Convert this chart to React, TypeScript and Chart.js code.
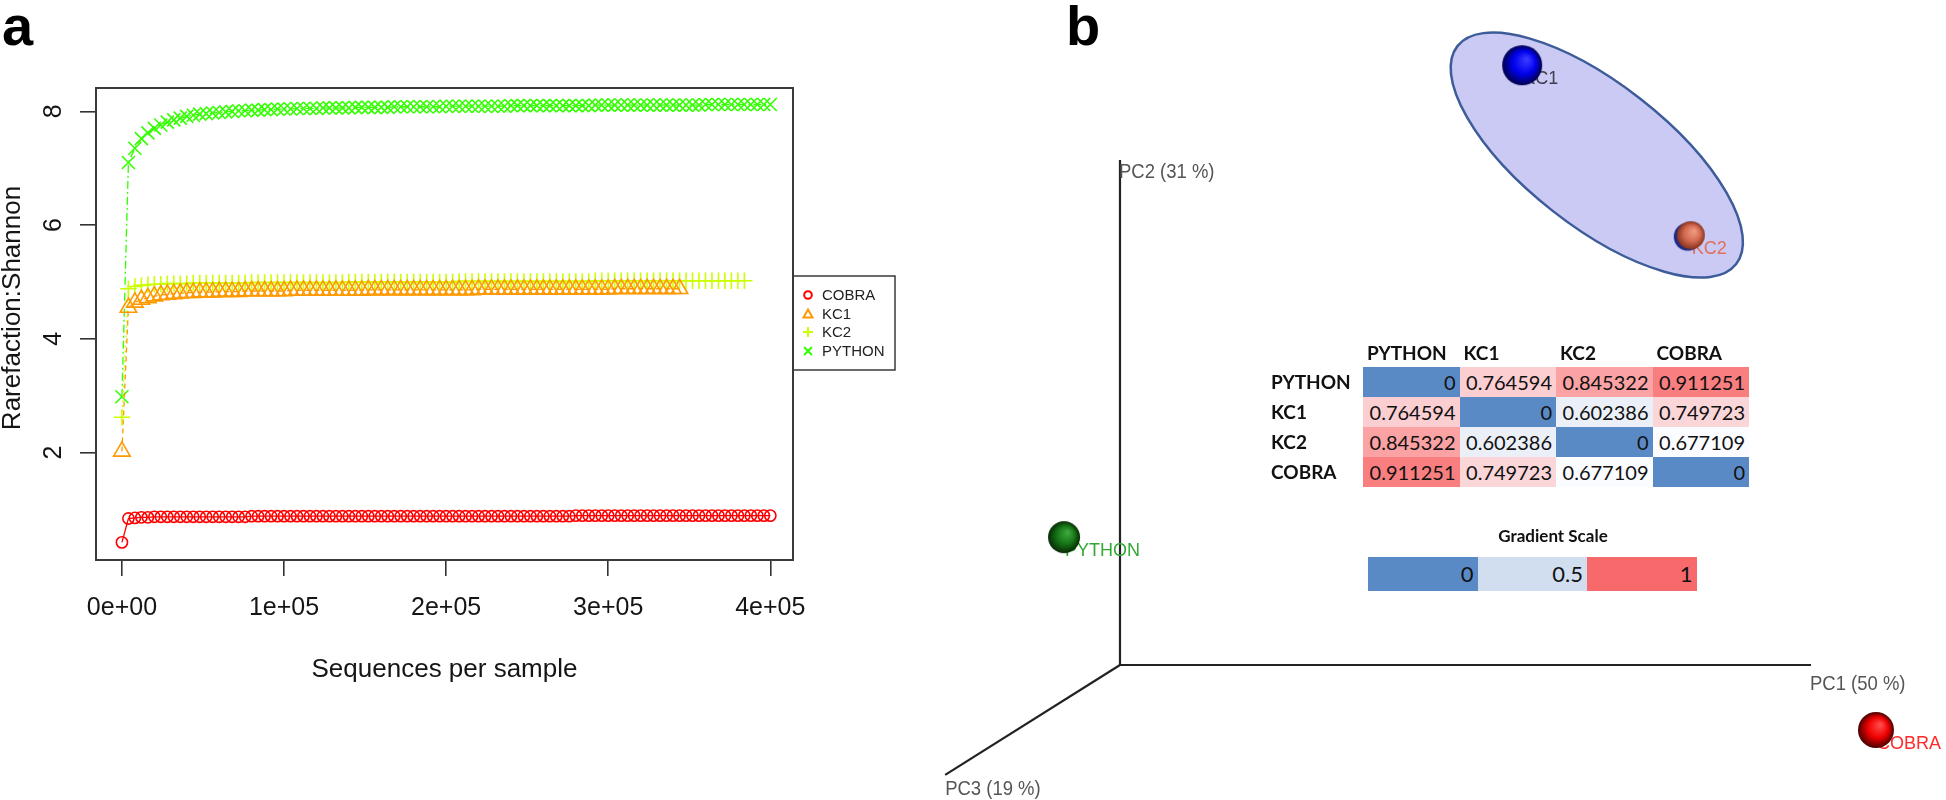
import React, { useEffect, useRef } from "react";
import { Chart, registerables } from "chart.js";
Chart.register(...registerables);

// ---------------- Panel a data ----------------
const depths = [1, 4000, 8000, 12000, 16000, 20000, 24000, 28000, 32000, 36000, 40000, 44000, 48000, 52000, 56000, 60000, 64000, 68000, 72000, 76000, 80000, 84000, 88000, 92000, 96000, 100000, 104000, 108000, 112000, 116000, 120000, 124000, 128000, 132000, 136000, 140000, 144000, 148000, 152000, 156000, 160000, 164000, 168000, 172000, 176000, 180000, 184000, 188000, 192000, 196000, 200000, 204000, 208000, 212000, 216000, 220000, 224000, 228000, 232000, 236000, 240000, 244000, 248000, 252000, 256000, 260000, 264000, 268000, 272000, 276000, 280000, 284000, 288000, 292000, 296000, 300000, 304000, 308000, 312000, 316000, 320000, 324000, 328000, 332000, 336000, 340000, 344000, 348000, 352000, 356000, 360000, 364000, 368000, 372000, 376000, 380000, 384000, 388000, 392000, 396000, 400000];

const cobraShannon = [
  0.42, 0.84, 0.85, 0.86, 0.86, 0.87, 0.87, 0.87, 0.87, 0.87,
  0.87, 0.87, 0.87, 0.87, 0.87, 0.87, 0.87, 0.87, 0.87, 0.87,
  0.88, 0.88, 0.88, 0.88, 0.88, 0.88, 0.88, 0.88, 0.88, 0.88,
  0.88, 0.88, 0.88, 0.88, 0.88, 0.88, 0.88, 0.88, 0.88, 0.88,
  0.88, 0.88, 0.88, 0.88, 0.88, 0.88, 0.88, 0.88, 0.88, 0.88,
  0.88, 0.88, 0.88, 0.88, 0.88, 0.88, 0.88, 0.88, 0.88, 0.88,
  0.88, 0.88, 0.88, 0.88, 0.88, 0.88, 0.88, 0.88, 0.88, 0.88,
  0.89, 0.89, 0.89, 0.89, 0.89, 0.89, 0.89, 0.89, 0.89, 0.89,
  0.89, 0.89, 0.89, 0.89, 0.89, 0.89, 0.89, 0.89, 0.89, 0.89,
  0.89, 0.89, 0.89, 0.89, 0.89, 0.89, 0.89, 0.89, 0.89, 0.89, 0.89,
];

const kc1Shannon = [
  2.02, 4.55, 4.64, 4.69, 4.72, 4.75, 4.77, 4.78, 4.79, 4.80,
  4.81, 4.81, 4.82, 4.82, 4.82, 4.83, 4.83, 4.83, 4.83, 4.84,
  4.84, 4.84, 4.84, 4.84, 4.84, 4.84, 4.85, 4.85, 4.85, 4.85,
  4.85, 4.85, 4.85, 4.85, 4.85, 4.85, 4.85, 4.85, 4.86, 4.86,
  4.86, 4.86, 4.86, 4.86, 4.86, 4.86, 4.86, 4.86, 4.86, 4.86,
  4.86, 4.86, 4.86, 4.86, 4.86, 4.87, 4.87, 4.87, 4.87, 4.87,
  4.87, 4.87, 4.87, 4.87, 4.87, 4.87, 4.87, 4.87, 4.87, 4.87,
  4.87, 4.87, 4.87, 4.87, 4.87, 4.87, 4.88, 4.88, 4.88, 4.88,
  4.88, 4.88, 4.88, 4.88, 4.88, 4.88, 4.88,
];

const kc2Shannon = [
  2.62, 4.88, 4.92, 4.94, 4.95, 4.96, 4.96, 4.97, 4.97, 4.97,
  4.97, 4.98, 4.98, 4.98, 4.98, 4.98, 4.98, 4.98, 4.98, 4.98,
  4.99, 4.99, 4.99, 4.99, 4.99, 4.99, 4.99, 4.99, 4.99, 4.99,
  4.99, 4.99, 4.99, 4.99, 4.99, 5.00, 5.00, 5.00, 5.00, 5.00,
  5.00, 5.00, 5.00, 5.00, 5.00, 5.00, 5.00, 5.00, 5.00, 5.00,
  5.00, 5.00, 5.01, 5.01, 5.01, 5.01, 5.01, 5.01, 5.01, 5.01,
  5.01, 5.01, 5.01, 5.01, 5.01, 5.01, 5.01, 5.01, 5.01, 5.01,
  5.01, 5.01, 5.01, 5.02, 5.02, 5.02, 5.02, 5.02, 5.02, 5.02,
  5.02, 5.02, 5.02, 5.02, 5.02, 5.02, 5.02, 5.02, 5.02, 5.02,
  5.02, 5.02, 5.02, 5.02, 5.02, 5.02, 5.02,
];

const pythonShannon = [
  2.98, 7.10, 7.35, 7.52, 7.62, 7.70, 7.76, 7.81, 7.85, 7.88,
  7.91, 7.93, 7.95, 7.96, 7.97, 7.98, 7.99, 8.00, 8.01, 8.01,
  8.02, 8.02, 8.03, 8.03, 8.04, 8.04, 8.04, 8.05, 8.05, 8.05,
  8.05, 8.06, 8.06, 8.06, 8.06, 8.06, 8.07, 8.07, 8.07, 8.07,
  8.07, 8.07, 8.08, 8.08, 8.08, 8.08, 8.08, 8.08, 8.08, 8.08,
  8.09, 8.09, 8.09, 8.09, 8.09, 8.09, 8.09, 8.09, 8.09, 8.09,
  8.10, 8.10, 8.10, 8.10, 8.10, 8.10, 8.10, 8.10, 8.10, 8.10,
  8.10, 8.10, 8.10, 8.11, 8.11, 8.11, 8.11, 8.11, 8.11, 8.11,
  8.11, 8.11, 8.11, 8.11, 8.11, 8.11, 8.11, 8.11, 8.11, 8.11,
  8.12, 8.12, 8.12, 8.12, 8.12, 8.12, 8.12, 8.12, 8.12, 8.12, 8.12,
];

const seriesNames = ["COBRA", "KC1", "KC2", "PYTHON"];
const xTickValues = [0, 100000, 200000, 300000, 400000];
const xTickLabels = ["0e+00", "1e+05", "2e+05", "3e+05", "4e+05"];
const yTickValues = [2, 4, 6, 8];
const yTickLabels = ["2", "4", "6", "8"];

// ---------------- Panel b data ----------------
const sampleNames = ["PYTHON", "KC1", "KC2", "COBRA"];
const projX = [-8.1, 58.2, 82.6, 109.4];
const projY = [18.5, 86.8, 62.2, -9.4];
const axisNames = ["PC1 (50 %)", "PC2 (31 %)", "PC3 (19 %)"];
const axisEndX = [100, 0, -25.3];
const axisEndY = [0, 73.1, -15.9];
const ellipseCenter = [69.0, 73.8];
const ellipseSemiAxes = [25.6, 10.3];
const ellipseAngleDeg = -38;

const distPYTHON = [0, 0.764594, 0.845322, 0.911251];
const distKC1 = [0.764594, 0, 0.602386, 0.749723];
const distKC2 = [0.845322, 0.602386, 0, 0.677109];
const distCOBRA = [0.911251, 0.749723, 0.677109, 0];
const gradientValues = [0, 0.5, 1];
const gradientLabels = ["0", "0.5", "1"];

// ---------------- styles ----------------
const seriesColors = ["#FF0000", "#FF9900", "#CCFF00", "#33FF00"];
const seriesPointStyle = ["circle", "triangle", "cross", "crossRot"];
const seriesPointRadius = [5.6, 9.5, 8.2, 9.2];
const seriesDash = [[], [5, 4], [2, 3], [8, 3, 2, 3]];
const FONT_A = '"Liberation Sans", Arial, sans-serif';

const sphereRadius = [16, 20, 14, 18];
const sphereColors = [
  ["#3da83d", "#157515", "#062806"],
  ["#3a3aff", "#0000ee", "#00004a"],
  ["#ee9a80", "#d46a50", "#85331e"],
  ["#ff4a4a", "#ee0000", "#4a0000"],
];
const labelColors = ["#33a833", "#3e3e50", "#e0705a", "#ff2a2a"];

function makeSphere(r: number, cols: string[], back?: string) {
  const c = document.createElement("canvas");
  const s = Math.ceil(2 * r + 8);
  c.width = s;
  c.height = s;
  const g = c.getContext("2d")!;
  const cx = s / 2, cy = s / 2;
  if (back) {
    g.beginPath();
    g.arc(cx - 3, cy + 1.5, r, 0, Math.PI * 2);
    g.fillStyle = back;
    g.fill();
  }
  const grad = g.createRadialGradient(cx + r * 0.25, cy - r * 0.3, r * 0.05, cx, cy, r);
  grad.addColorStop(0, cols[0]);
  grad.addColorStop(0.55, cols[1]);
  grad.addColorStop(1, cols[2]);
  g.beginPath();
  g.arc(cx, cy, r, 0, Math.PI * 2);
  g.fillStyle = grad;
  g.fill();
  return c;
}

function valueColor(v: number): string {
  const lo = [90, 138, 198], mid = [252, 252, 255], hi = [248, 105, 107];
  const m = 0.68, top = 0.95;
  let c: number[];
  if (v <= m) {
    const t = Math.max(0, Math.min(1, (m - v) / m));
    c = mid.map((x, i) => x + (lo[i] - x) * t);
  } else {
    const t = Math.min(1, (v - m) / (top - m));
    c = mid.map((x, i) => x + (hi[i] - x) * t);
  }
  return `rgb(${c.map((x) => Math.round(x)).join(",")})`;
}

function drawLegendSymbol(ctx: CanvasRenderingContext2D, k: number, x: number, y: number) {
  ctx.save();
  ctx.strokeStyle = seriesColors[k];
  ctx.lineWidth = 2;
  ctx.beginPath();
  if (k === 0) {
    ctx.arc(x, y, 3.8, 0, Math.PI * 2);
  } else if (k === 1) {
    ctx.moveTo(x, y - 4.5);
    ctx.lineTo(x + 4.5, y + 3.5);
    ctx.lineTo(x - 4.5, y + 3.5);
    ctx.closePath();
  } else if (k === 2) {
    ctx.moveTo(x - 5, y); ctx.lineTo(x + 5, y);
    ctx.moveTo(x, y - 5); ctx.lineTo(x, y + 5);
  } else {
    ctx.moveTo(x - 4, y - 4); ctx.lineTo(x + 4, y + 4);
    ctx.moveTo(x + 4, y - 4); ctx.lineTo(x - 4, y + 4);
  }
  ctx.stroke();
  ctx.restore();
}

const panelAPlugin = {
  id: "panelA",
  afterDraw(chart: any) {
    const ctx: CanvasRenderingContext2D = chart.ctx;
    const { left, right, top, bottom } = chart.chartArea;
    const xs = chart.scales.x, ys = chart.scales.y;
    ctx.save();
    ctx.strokeStyle = "#3a3a3a";
    ctx.lineWidth = 2;
    ctx.strokeRect(left, top, right - left, bottom - top);

    ctx.fillStyle = "#151515";
    ctx.font = `25px ${FONT_A}`;
    ctx.textAlign = "center";
    ctx.textBaseline = "middle";
    xTickValues.forEach((v, i) => ctx.fillText(xTickLabels[i], xs.getPixelForValue(v), bottom + 48));
    yTickValues.forEach((v, i) => {
      ctx.save();
      ctx.translate(left - 42, ys.getPixelForValue(v));
      ctx.rotate(-Math.PI / 2);
      ctx.fillText(yTickLabels[i], 0, 0);
      ctx.restore();
    });
    ctx.font = `26px ${FONT_A}`;
    ctx.fillText("Sequences per sample", (left + right) / 2, bottom + 110);
    ctx.save();
    ctx.translate(13, 308);
    ctx.rotate(-Math.PI / 2);
    ctx.fillText("Rarefaction:Shannon", 0, 0);
    ctx.restore();

    // legend
    const lx0 = right, lx1 = 895, ly0 = 276, ly1 = 370;
    ctx.strokeStyle = "#3a3a3a";
    ctx.lineWidth = 1.5;
    ctx.strokeRect(lx0, ly0, lx1 - lx0, ly1 - ly0);
    const rowsY = [295, 314, 332, 351];
    ctx.font = `15px ${FONT_A}`;
    ctx.textAlign = "left";
    ctx.fillStyle = "#222";
    seriesNames.forEach((n, k) => {
      drawLegendSymbol(ctx, k, lx0 + 15, rowsY[k]);
      ctx.fillText(n, lx0 + 29, rowsY[k] + 1);
    });

    ctx.fillStyle = "#000";
    ctx.font = `bold 56px ${FONT_A}`;
    ctx.textBaseline = "alphabetic";
    ctx.fillText("a", 2, 45);
    ctx.restore();
  },
};

const panelBPlugin = {
  id: "panelB",
  beforeDatasetsDraw(chart: any) {
    const ctx: CanvasRenderingContext2D = chart.ctx;
    const xs = chart.scales.x, ys = chart.scales.y;
    const ox = xs.getPixelForValue(0), oy = ys.getPixelForValue(0);
    ctx.save();
    // ellipse
    const ecx = xs.getPixelForValue(ellipseCenter[0]);
    const ecy = ys.getPixelForValue(ellipseCenter[1]);
    const ea = Math.abs(xs.getPixelForValue(ellipseCenter[0] + ellipseSemiAxes[0]) - ecx);
    const eb = Math.abs(xs.getPixelForValue(ellipseCenter[0] + ellipseSemiAxes[1]) - ecx);
    ctx.beginPath();
    ctx.ellipse(ecx, ecy, ea, eb, (-ellipseAngleDeg * Math.PI) / 180, 0, Math.PI * 2);
    ctx.fillStyle = "#cacaf4";
    ctx.fill();
    ctx.strokeStyle = "#3d5c99";
    ctx.lineWidth = 2.5;
    ctx.stroke();

    // axes
    ctx.strokeStyle = "#222";
    ctx.lineWidth = 2.2;
    axisEndX.forEach((ex, i) => {
      ctx.beginPath();
      ctx.moveTo(ox, oy);
      ctx.lineTo(xs.getPixelForValue(ex), ys.getPixelForValue(axisEndY[i]));
      ctx.stroke();
    });
    const labelOffsets = [[-1, 25], [-1, 18], [0, 20]];
    ctx.fillStyle = "#555";
    ctx.font = `21px ${FONT_A}`;
    ctx.textAlign = "left";
    ctx.textBaseline = "alphabetic";
    axisNames.forEach((n, i) => {
      ctx.save();
      ctx.translate(xs.getPixelForValue(axisEndX[i]) + labelOffsets[i][0], ys.getPixelForValue(axisEndY[i]) + labelOffsets[i][1]);
      ctx.scale(0.88, 1);
      ctx.fillText(n, 0, 0);
      ctx.restore();
    });

    // sample labels (behind spheres)
    ctx.font = `18px ${FONT_A}`;
    sampleNames.forEach((n, i) => {
      const el = chart.getDatasetMeta(i).data[0];
      ctx.fillStyle = labelColors[i];
      ctx.fillText(n, el.x + 1, el.y + 19);
    });

    ctx.fillStyle = "#000";
    ctx.font = `bold 56px ${FONT_A}`;
    ctx.fillText("b", 166, 45);
    ctx.restore();
  },
};

// layout constants
const colLefts = [1363, 1459.5, 1556, 1652.5];
const colW = 96.5;
const rowTops = [367, 397, 427, 457];
const rowH = 30;
const gradLefts = [1368, 1477.5, 1587];
const gradW = 109.5;

export default function App() {
  const refA = useRef<HTMLCanvasElement>(null);
  const refB = useRef<HTMLCanvasElement>(null);

  useEffect(() => {
    const series = [cobraShannon, kc1Shannon, kc2Shannon, pythonShannon];
    const chartA = new Chart(refA.current!, {
      type: "scatter",
      data: {
        datasets: seriesNames.map((name, k) => ({
          label: name,
          data: series[k].map((y, i) => ({ x: depths[i], y })),
          showLine: true,
          borderColor: seriesColors[k],
          borderWidth: 1.3,
          borderDash: seriesDash[k],
          backgroundColor: "rgba(0,0,0,0)",
          pointStyle: seriesPointStyle[k] as any,
          pointRadius: seriesPointRadius[k],
          pointBorderColor: seriesColors[k],
          pointBackgroundColor: "rgba(0,0,0,0)",
          pointBorderWidth: 1.6,
        })),
      },
      options: {
        animation: false,
        responsive: false,
        devicePixelRatio: 1,
        events: [],
        layout: { autoPadding: false, padding: { left: 0, right: 107, top: 88, bottom: 0 } },
        plugins: { legend: { display: false }, tooltip: { enabled: false } },
        scales: {
          x: {
            type: "linear",
            min: -16000,
            max: 414000,
            afterBuildTicks: (s: any) => { s.ticks = xTickValues.map((v) => ({ value: v })); },
            afterFit: (s: any) => { s.height = 240; },
            grid: { drawOnChartArea: false, drawTicks: true, tickLength: 16, color: "#333", lineWidth: 1.6 },
            border: { display: false },
            ticks: { display: false },
          },
          y: {
            type: "linear",
            min: 0.11,
            max: 8.41,
            afterBuildTicks: (s: any) => { s.ticks = yTickValues.map((v) => ({ value: v })); },
            afterFit: (s: any) => { s.width = 96; },
            grid: { drawOnChartArea: false, drawTicks: true, tickLength: 16, color: "#333", lineWidth: 1.6 },
            border: { display: false },
            ticks: { display: false },
          },
        },
      },
      plugins: [panelAPlugin],
    } as any);

    const spheres = sampleNames.map((_, i) =>
      makeSphere(sphereRadius[i], sphereColors[i], i === 2 ? "#1c2a8a" : undefined)
    );
    const chartB = new Chart(refB.current!, {
      type: "scatter",
      data: {
        datasets: sampleNames.map((name, i) => ({
          label: name,
          data: [{ x: projX[i], y: projY[i] }],
          pointStyle: spheres[i] as any,
          pointRadius: sphereRadius[i],
          showLine: false,
        })),
      },
      options: {
        animation: false,
        responsive: false,
        devicePixelRatio: 1,
        events: [],
        layout: { autoPadding: false, padding: 0 },
        plugins: { legend: { display: false }, tooltip: { enabled: false } },
        scales: {
          x: { type: "linear", display: false, min: -31.838, max: 119.537 },
          y: { type: "linear", display: false, min: -19.537, max: 96.237 },
        },
      },
      plugins: [panelBPlugin],
    } as any);

    return () => {
      chartA.destroy();
      chartB.destroy();
    };
  }, []);

  const tableRows = [distPYTHON, distKC1, distKC2, distCOBRA];
  const tf = "Lato, 'Open Sans', sans-serif";

  return (
    <div style={{ position: "absolute", left: 0, top: 0, width: 1946, height: 800, background: "#fff", overflow: "hidden" }}>
      <canvas ref={refA} width={900} height={800} style={{ position: "absolute", left: 0, top: 0, width: 900, height: 800 }} />
      <canvas ref={refB} width={1046} height={800} style={{ position: "absolute", left: 900, top: 0, width: 1046, height: 800 }} />
      <div style={{ position: "absolute", left: 0, top: 0, fontFamily: tf, color: "#111" }}>
        {sampleNames.map((n, j) => (
          <div key={"h" + j} style={{ position: "absolute", left: colLefts[j] + 4, top: 340, height: 26, lineHeight: "26px", fontWeight: 700, fontSize: 19, whiteSpace: "nowrap" }}>{n}</div>
        ))}
        {sampleNames.map((n, i) => (
          <div key={"r" + i} style={{ position: "absolute", left: 1271, top: rowTops[i], height: rowH, lineHeight: rowH + "px", fontWeight: 700, fontSize: 19, whiteSpace: "nowrap" }}>{n}</div>
        ))}
        {tableRows.map((row, i) =>
          row.map((v, j) => (
            <div key={i + "-" + j} style={{ position: "absolute", left: colLefts[j], top: rowTops[i], width: colW, height: rowH, background: valueColor(v), textAlign: "right", boxSizing: "border-box", paddingRight: 4, lineHeight: rowH + "px", fontSize: 20, whiteSpace: "nowrap" }}>{String(v)}</div>
          ))
        )}
        <div style={{ position: "absolute", left: 1453, top: 524, width: 200, textAlign: "center", fontWeight: 700, fontSize: 17, lineHeight: "24px" }}>Gradient Scale</div>
        {gradientValues.map((v, i) => (
          <div key={"g" + i} style={{ position: "absolute", left: gradLefts[i], top: 557, width: gradW, height: 34, background: valueColor(v), textAlign: "right", boxSizing: "border-box", paddingRight: 4, lineHeight: "34px", fontSize: 22 }}>{gradientLabels[i]}</div>
        ))}
      </div>
    </div>
  );
}
